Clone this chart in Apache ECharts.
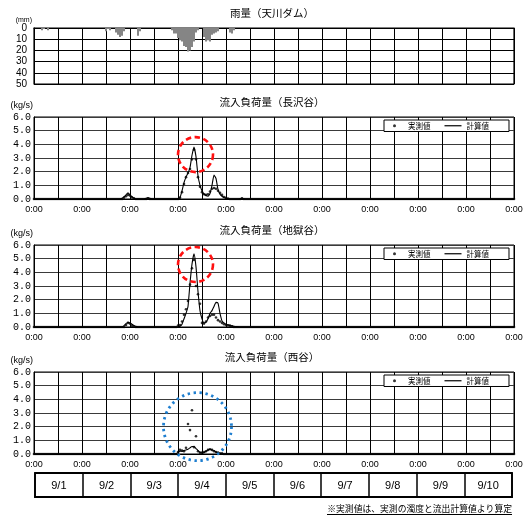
<!DOCTYPE html>
<html>
<head>
<meta charset="utf-8">
<script src="https://cdn.jsdelivr.net/npm/echarts@6/dist/echarts.min.js"></script>
<style>
  html, body { margin: 0; padding: 0; background: #fff; }
  #chart { width: 525px; height: 516px; }
</style>
</head>
<body>
<div id="chart"></div>
<script>
// ---- Data: hour 0 = 9/1 0:00, hour 240 = 9/11 0:00 ----

// Hourly rainfall at 天川ダム (mm)
const rainHours = [4, 5, 7, 36, 37, 38, 41, 42, 43, 44, 45, 52, 53,
  69, 70, 71, 72, 73, 74, 75, 76, 77, 78, 79, 80, 81, 82,
  85, 86, 87, 88, 89, 90, 91, 92, 98, 99, 100];
const rainMm = [2, 1, 2, 3, 1, 2, 4, 6, 8, 7, 3, 7, 3,
  2, 5, 5, 9, 11, 12, 16, 17, 21, 20, 17, 12, 4, 2,
  8, 12, 11, 12, 6, 5, 4, 3, 4, 5, 2];

// 長沢谷: hourly load (kg/s), one row per day
const nagasawaMeasured = [
  0,0,0,0,0,0,0,0,0,0,0,0,0,0,0,0,0,0,0,0,0,0,0,0,
  0,0,0,0,0,0,0,0,0,0,0,0,0,0,0,0,0,0,0,0,0,0.1,0.2,0.3,
  0.25,0.12,0.05,0,0,0,0,0,0,0.05,0,0,0,0,0,0,0,0,0,0,0,0,0,0,
  0,0.1,0.5,1.1,1.6,1.9,2.2,2.9,3.6,2.9,1.6,0.9,0.5,0.35,0.3,0.35,0.55,0.75,0.8,0.75,0.6,0.45,0.3,0.15,
  0.08,0.03,0,0,0,0,0,0,0.05,0,0,0,0,0,0,0,0,0,0,0,0,0,0,0,
  0,0,0,0,0,0,0,0,0,0,0,0,0,0,0,0,0,0,0,0,0,0,0,0,
  0,0,0,0,0,0,0,0,0,0,0,0,0,0,0,0,0,0,0,0,0,0,0,0,
  0,0,0,0,0,0,0,0,0,0,0,0,0,0,0,0,0,0,0,0,0,0,0,0,
  0,0,0,0,0,0,0,0,0,0,0,0,0,0,0,0,0,0,0,0,0,0,0,0,
  0,0,0,0,0,0,0,0,0,0,0,0,0,0,0,0,0,0,0,0,0,0,0,0,
  0
];
const nagasawaCalc = [
  0,0,0,0,0,0,0,0,0,0,0,0,0,0,0,0,0,0,0,0,0,0,0,0,
  0,0,0,0,0,0,0,0,0,0,0,0,0,0,0,0,0,0,0,0,0.05,0.15,0.3,0.45,
  0.3,0.15,0.05,0,0,0,0,0,0.05,0.08,0.05,0,0,0,0,0,0,0,0,0,0,0,0,0,
  0.02,0.1,0.6,1.2,1.6,1.9,2.3,3.2,3.8,3.1,1.7,1.0,0.6,0.35,0.25,0.2,0.4,1.0,1.75,1.5,0.7,0.35,0.2,0.1,
  0.05,0.02,0,0,0,0,0,0.03,0.06,0.03,0,0,0,0,0,0,0,0,0,0,0,0,0,0,
  0,0,0,0,0,0,0,0,0,0,0,0,0,0,0,0,0,0,0,0,0,0,0,0,
  0,0,0,0,0,0,0,0,0,0,0,0,0,0,0,0,0,0,0,0,0,0,0,0,
  0,0,0,0,0,0,0,0,0,0,0,0,0,0,0,0,0,0,0,0,0,0,0,0,
  0,0,0,0,0,0,0,0,0,0,0,0,0,0,0,0,0,0,0,0,0,0,0,0,
  0,0,0,0,0,0,0,0,0,0,0,0,0,0,0,0,0,0,0,0,0,0,0,0,
  0
];

// 地獄谷
const jigokuMeasured = [
  0,0,0,0,0,0,0,0,0,0,0,0,0,0,0,0,0,0,0,0,0,0,0,0,
  0,0,0,0,0,0,0,0,0,0,0,0,0,0,0,0,0,0,0,0,0,0,0.15,0.3,
  0.25,0.1,0.05,0,0,0,0,0,0,0,0,0,0,0,0,0,0,0,0,0,0,0,0,0,
  0.1,0.15,0.4,0.9,1.3,1.9,3.1,4.3,4.9,3.0,2.4,1.7,0.3,0.25,0.4,0.7,0.8,0.9,0.9,0.7,0.5,0.4,0.3,0.2,
  0.15,0.12,0.1,0.05,0,0,0,0,0,0,0,0,0,0,0,0,0,0,0,0,0,0,0,0,
  0,0,0,0,0,0,0,0,0,0,0,0,0,0,0,0,0,0,0,0,0,0,0,0,
  0,0,0,0,0,0,0,0,0,0,0,0,0,0,0,0,0,0,0,0,0,0,0,0,
  0,0,0,0,0,0,0,0,0,0,0,0,0,0,0,0,0,0,0,0,0,0,0,0,
  0,0,0,0,0,0,0,0,0,0,0,0,0,0,0,0,0,0,0,0,0,0,0,0,
  0,0,0,0,0,0,0,0,0,0,0,0,0,0,0,0,0,0,0,0,0,0,0,0,
  0
];
const jigokuCalc = [
  0,0,0,0,0,0,0,0,0,0,0,0,0,0,0,0,0,0,0,0,0,0,0,0,
  0,0,0,0,0,0,0,0,0,0,0,0,0,0,0,0,0,0,0,0,0,0.1,0.25,0.35,
  0.3,0.2,0.1,0.05,0,0,0,0,0,0,0,0,0,0,0,0,0,0,0,0,0,0,0,0,
  0,0.05,0.2,0.6,1.0,1.5,3.2,4.6,5.35,4.4,2.6,1.2,0.6,0.3,0.35,0.6,1.0,1.2,1.5,1.8,1.75,1.0,0.45,0.3,
  0.2,0.15,0.1,0.08,0.05,0.03,0.02,0,0,0,0,0,0,0,0,0,0,0,0,0,0,0,0,0,
  0,0,0,0,0,0,0,0,0,0,0,0,0,0,0,0,0,0,0,0,0,0,0,0,
  0,0,0,0,0,0,0,0,0,0,0,0,0,0,0,0,0,0,0,0,0,0,0,0,
  0,0,0,0,0,0,0,0,0,0,0,0,0,0,0,0,0,0,0,0,0,0,0,0,
  0,0,0,0,0,0,0,0,0,0,0,0,0,0,0,0,0,0,0,0,0,0,0,0,
  0,0,0,0,0,0,0,0,0,0,0,0,0,0,0,0,0,0,0,0,0,0,0,0,
  0
];

// 西谷
const nishitaniMeasured = [
  0,0,0,0,0,0,0,0,0,0,0,0,0,0,0,0,0,0,0,0,0,0,0,0,
  0,0,0,0,0,0,0,0,0,0,0,0,0,0,0,0,0,0,0,0,0,0,0,0,
  0,0,0,0,0,0,0,0,0,0,0,0,0,0,0,0,0,0,0,0,0,0,0,0,
  0.15,0.3,0.25,0.2,0.46,2.2,1.75,3.2,0.5,1.3,0.2,0.1,0.1,0.15,0.2,0.3,0.35,0.3,0.2,0.15,0.1,0.05,0.05,0,
  0,0,0,0,0,0,0,0,0,0,0,0,0,0,0,0,0,0,0,0,0,0,0,0,
  0,0,0,0,0,0,0,0,0,0,0,0,0,0,0,0,0,0,0,0,0,0,0,0,
  0,0,0,0,0,0,0,0,0,0,0,0,0,0,0,0,0,0,0,0,0,0,0,0,
  0,0,0,0,0,0,0,0,0,0,0,0,0,0,0,0,0,0,0,0,0,0,0,0,
  0,0,0,0,0,0,0,0,0,0,0,0,0,0,0,0,0,0,0,0,0,0,0,0,
  0,0,0,0,0,0,0,0,0,0,0,0,0,0,0,0,0,0,0,0,0,0,0,0,
  0
];
const nishitaniCalc = [
  0,0,0,0,0,0,0,0,0,0,0,0,0,0,0,0,0,0,0,0,0,0,0,0,
  0,0,0,0,0,0,0,0,0,0,0,0,0,0,0,0,0,0,0,0,0,0,0,0,
  0,0,0,0,0,0,0,0,0,0,0,0,0,0,0,0,0,0,0,0,0,0,0,0.02,
  0.1,0.2,0.2,0.25,0.3,0.35,0.45,0.55,0.55,0.4,0.25,0.12,0.08,0.1,0.2,0.3,0.35,0.3,0.25,0.15,0.08,0.04,0.02,0,
  0,0,0,0,0,0,0,0,0,0,0,0,0,0,0,0,0,0,0,0,0,0,0,0,
  0,0,0,0,0,0,0,0,0,0,0,0,0,0,0,0,0,0,0,0,0,0,0,0,
  0,0,0,0,0,0,0,0,0,0,0,0,0,0,0,0,0,0,0,0,0,0,0,0,
  0,0,0,0,0,0,0,0,0,0,0,0,0,0,0,0,0,0,0,0,0,0,0,0,
  0,0,0,0,0,0,0,0,0,0,0,0,0,0,0,0,0,0,0,0,0,0,0,0,
  0,0,0,0,0,0,0,0,0,0,0,0,0,0,0,0,0,0,0,0,0,0,0,0,
  0
];

// Axis labels
const dayLabels = ['9/1', '9/2', '9/3', '9/4', '9/5', '9/6', '9/7', '9/8', '9/9', '9/10'];
const dayTickLabel = '0:00';
const rainTicks = [0, 10, 20, 30, 40, 50];
const loadTicks = [0, 1, 2, 3, 4, 5, 6];

// Panels
const rainTitle = '雨量（天川ダム）';
const loadPanels = [
  { title: '流入負荷量（長沢谷）', measured: nagasawaMeasured, calc: nagasawaCalc },
  { title: '流入負荷量（地獄谷）', measured: jigokuMeasured, calc: jigokuCalc },
  { title: '流入負荷量（西谷）', measured: nishitaniMeasured, calc: nishitaniCalc }
];
const measuredName = '実測値';
const calcName = '計算値';
const footnote = '※実測値は、実測の濁度と流出計算値より算定';

// Highlighted peaks (panel index into load panels, hour, kg/s)
const peakMarks = [
  { panel: 0, hour: 80.75, value: 3.25 },
  { panel: 1, hour: 80.75, value: 4.57 },
  { panel: 2, hour: 81.75, value: 2.0 }
];

// ---- Layout & style ----
const FONT_JP = '"Noto Sans CJK JP", sans-serif';
const FONT_NUM = '"Liberation Sans", Arial, sans-serif';
const FONT_MONO = '"Liberation Mono", "DejaVu Sans Mono", monospace';
const PLOT_LEFT = 34, PLOT_WIDTH = 480;
const RAIN_TOP = 28, RAIN_HEIGHT = 56;
const LOAD_TOPS = [117, 245, 372];
const LOAD_HEIGHT = 82;
const TABLE = { left: 35, top: 473, width: 477, height: 24 };
const TITLE_X = 272;
const LEGEND_LINE_ICON = 'path://M0,0L17,0L17,1.2L0,1.2Z';
const ringStyles = [
  { r: 17.5, stroke: '#ff1010', lineWidth: 2.6, lineDash: [5.5, 3.5] },
  { r: 17.5, stroke: '#ff1010', lineWidth: 2.6, lineDash: [5.5, 3.5] },
  { r: 34, stroke: '#1f7fd0', lineWidth: 2.8, lineDash: [2.4, 3.6] }
];

const chart = echarts.init(document.getElementById('chart'), null, { renderer: 'canvas' });

const grids = [];
const xAxes = [];
const yAxes = [];
const series = [];
const legends = [];
const graphics = [];

function timeAxis(gridIndex, showLabels) {
  return {
    type: 'value', gridIndex, min: 0, max: 240, interval: 12,
    axisLine: { show: true, lineStyle: { color: '#000', width: 1 } },
    axisTick: { show: false },
    splitLine: { show: true, lineStyle: { color: '#000', width: 1 } },
    axisLabel: {
      show: showLabels, margin: 6, color: '#000', fontSize: 9, fontFamily: FONT_NUM,
      showMinLabel: true, showMaxLabel: true,
      formatter: v => (v % 24 === 0 ? dayTickLabel : '')
    }
  };
}

// Rain panel (inverted bars)
grids.push({ left: PLOT_LEFT, top: RAIN_TOP, width: PLOT_WIDTH, height: RAIN_HEIGHT,
  show: true, borderColor: '#000', borderWidth: 1.2, outerBoundsMode: 'none' });
xAxes.push(timeAxis(0, false));
yAxes.push({
  type: 'value', gridIndex: 0, inverse: true, min: rainTicks[0], max: rainTicks[rainTicks.length - 1], interval: 10,
  axisLine: { show: true, lineStyle: { color: '#000' } }, axisTick: { show: false },
  splitLine: { show: true, lineStyle: { color: '#000', width: 1 } },
  axisLabel: { margin: 7, color: '#000', fontSize: 10, fontFamily: FONT_NUM }
});
series.push({
  type: 'bar', xAxisIndex: 0, yAxisIndex: 0, barWidth: 2,
  itemStyle: { color: '#858585' },
  data: rainHours.map((h, i) => [h, rainMm[i]])
});
graphics.push({ type: 'text', x: TITLE_X, y: RAIN_TOP - 15,
  style: { text: rainTitle, font: '10.5px ' + FONT_JP, fill: '#000', textAlign: 'center', textVerticalAlign: 'middle' } });
graphics.push({ type: 'text', x: 32, y: RAIN_TOP - 8,
  style: { text: '(mm)', font: '7px ' + FONT_NUM, fill: '#000', textAlign: 'right', textVerticalAlign: 'middle' } });

// Load panels
loadPanels.forEach((p, i) => {
  const g = i + 1;
  const top = LOAD_TOPS[i];
  grids.push({ left: PLOT_LEFT, top, width: PLOT_WIDTH, height: LOAD_HEIGHT,
    show: true, borderColor: '#000', borderWidth: 1, outerBoundsMode: 'none' });
  xAxes.push(timeAxis(g, true));
  yAxes.push({
    type: 'value', gridIndex: g, min: loadTicks[0], max: loadTicks[loadTicks.length - 1], interval: 1,
    axisLine: { show: true, lineStyle: { color: '#000' } }, axisTick: { show: false },
    splitLine: { show: true, lineStyle: { color: '#3a3a3a', width: 1 } },
    axisLabel: { margin: 3, color: '#000', fontSize: 10, fontFamily: FONT_MONO, formatter: v => v.toFixed(1) }
  });
  series.push({
    name: calcName, type: 'line', xAxisIndex: g, yAxisIndex: g,
    showSymbol: false, symbol: 'none', smooth: 0.15,
    lineStyle: { color: '#000', width: 1.1 }, itemStyle: { color: '#000' },
    data: p.calc.map((v, h) => [h, v]), z: 3
  });
  series.push({
    name: measuredName, type: 'scatter', xAxisIndex: g, yAxisIndex: g,
    symbol: 'circle', symbolSize: 2.6, clip: false,
    itemStyle: { color: '#000' },
    data: p.measured.map((v, h) => [h, v]), z: 4
  });
  legends.push({
    left: 384, top: top + 3, orient: 'horizontal', selectedMode: false,
    data: [
      { name: measuredName, icon: 'circle' },
      { name: calcName, icon: LEGEND_LINE_ICON, itemStyle: { color: '#000', borderWidth: 0 } }
    ],
    itemWidth: 17, itemHeight: 3, itemGap: 14,
    padding: [2, 20, 2, 9],
    borderColor: '#000', borderWidth: 1, borderRadius: 0, backgroundColor: '#fff',
    textStyle: { fontSize: 7.5, fontFamily: FONT_JP, color: '#000' }
  });
  graphics.push({ type: 'text', x: TITLE_X, y: top - 15,
    style: { text: p.title, font: '10.5px ' + FONT_JP, fill: '#000', textAlign: 'center', textVerticalAlign: 'middle' } });
  graphics.push({ type: 'text', x: 33, y: top - 11,
    style: { text: '(kg/s)', font: '9px ' + FONT_NUM, fill: '#000', textAlign: 'right', textVerticalAlign: 'middle' } });
});

// Date table under the time axes
const tg = grids.length;
grids.push({ left: TABLE.left, top: TABLE.top, width: TABLE.width, height: TABLE.height,
  show: true, borderColor: '#000', borderWidth: 1.8, outerBoundsMode: 'none' });
xAxes.push({
  type: 'category', gridIndex: tg, data: dayLabels, boundaryGap: true,
  axisLine: { show: true, lineStyle: { color: '#000', width: 1.8 } },
  axisTick: { show: false },
  splitLine: { show: true, interval: 0, lineStyle: { color: '#000', width: 1.5 } },
  axisLabel: { inside: true, interval: 0, margin: 6, color: '#000', fontSize: 11, fontFamily: FONT_NUM }
});
yAxes.push({ type: 'value', gridIndex: tg, show: false, min: 0, max: 1 });

// Footnote
graphics.push({ type: 'text', x: 512, y: 509,
  style: { text: footnote, font: '8.8px ' + FONT_JP, fill: '#000', textAlign: 'right', textVerticalAlign: 'middle' } });
graphics.push({ type: 'line', shape: { x1: 327, y1: 514.5, x2: 512, y2: 514.5 },
  style: { stroke: '#000', lineWidth: 1 } });

chart.setOption({
  animation: false,
  backgroundColor: '#fff',
  textStyle: { fontFamily: FONT_NUM },
  grid: grids,
  xAxis: xAxes,
  yAxis: yAxes,
  legend: legends,
  series: series,
  graphic: graphics
});

// Rings around the peaks, anchored to data coordinates
const rings = peakMarks.map((m, i) => {
  const [cx, cy] = chart.convertToPixel({ gridIndex: m.panel + 1 }, [m.hour, m.value]);
  const s = ringStyles[i];
  return {
    type: 'circle', z: 100,
    shape: { cx, cy, r: s.r },
    style: { fill: 'none', stroke: s.stroke, lineWidth: s.lineWidth, lineDash: s.lineDash }
  };
});
chart.setOption({ graphic: graphics.concat(rings) });
</script>
</body>
</html>
